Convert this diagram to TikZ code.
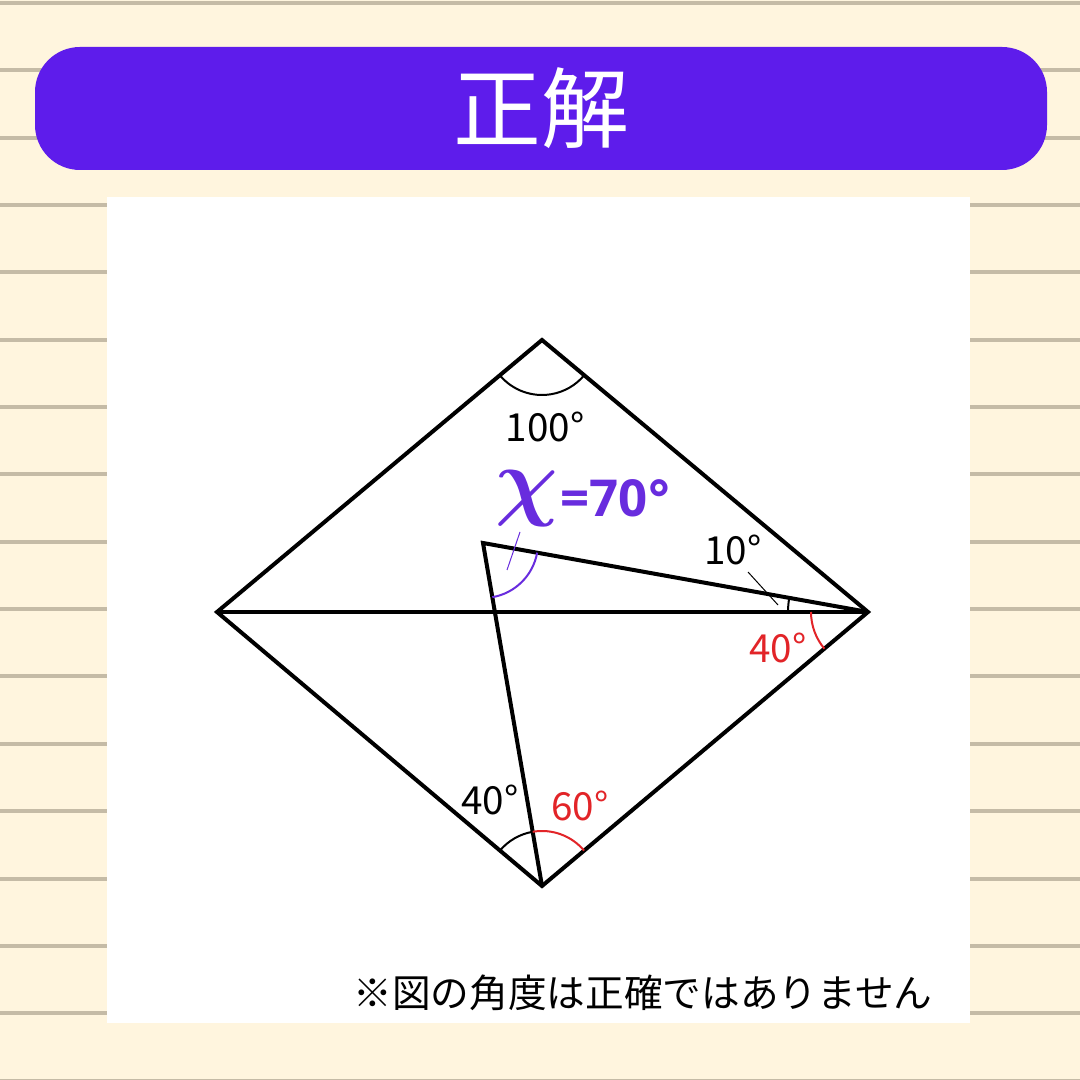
\documentclass[tikz,border=0pt]{standalone}
\usepackage{fontspec}
\setmainfont{Noto Sans CJK JP}
\newfontfamily\answerfont{Open Sans}
\usetikzlibrary{angles}

\definecolor{paper}{RGB}{255,245,222}
\definecolor{ruling}{RGB}{197,187,166}
\definecolor{banner}{RGB}{94,28,235}
\definecolor{answer}{RGB}{104,44,222}
\definecolor{given}{RGB}{226,36,40}

\begin{document}
\begin{tikzpicture}[
		edge/.style={line width=0.04cm, line join=miter},
		anglearc/.style={draw, line width=0.02cm, angle radius=0.55cm},
		pointer/.style={line width=0.01cm},
		degtext/.style={font=\fontsize{11}{11}\selectfont, inner sep=0pt}
	]
		\useasboundingbox (0,0) rectangle (10.8,10.8);
		
		% Background paper with ruled lines
		\fill[paper] (0,0) rectangle (10.8,10.8);
		\foreach \k in {0,...,16}
			\fill[ruling] (0,10.77-0.6735*\k-0.02) rectangle (10.8,10.77-0.6735*\k+0.02);
		
		% Title banner
		\fill[banner, rounded corners=0.45cm] (0.35,9.10) rectangle (10.47,10.33);
		\node[text=white, font=\fontsize{25}{25}\selectfont] (title) at (5.41,9.72) {正解};
		
		% White panel
		\fill[white] (1.07,0.57) rectangle (9.70,8.83);
		
		% Vertices
		\coordinate (T) at (5.42,7.40);
		\coordinate (L) at (2.17,4.68);
		\coordinate (R) at (8.68,4.68);
		\coordinate (B) at (5.42,1.94);
		\coordinate (P) at (4.83,5.37);
		
		% Draw diamond and diagonal
		\draw[edge] (T) -- (R) -- (B) -- (L) -- cycle;
		\draw[edge] (L) -- (R);
		
		% Draw inner triangle lines
		\draw[edge] (R) -- (P) -- (B);
		
		% Angle arcs
		\pic[anglearc] {angle = L--T--R};
		\pic[anglearc, answer] {angle = B--P--R};
		\pic[anglearc, angle radius=0.80cm] {angle = P--R--L};
		\pic[anglearc, given, angle radius=0.57cm] {angle = L--R--B};
		\pic[anglearc] {angle = P--B--L};
		\pic[anglearc, given] {angle = R--B--P};
		
		% Angle labels
		\node[degtext] (top) at (5.45,6.53) {100°};
		\node[degtext] (small) at (7.33,5.30) {10°};
		\node[degtext, text=given] (right) at (7.78,4.32) {40°};
		\node[degtext] (lowleft) at (4.90,2.80) {40°};
		\node[degtext, text=given] (lowright) at (5.80,2.74) {60°};
		
		% Answer
		\node[text=answer, inner sep=0pt, text height=0.28cm, text depth=0.18cm, font=\boldmath\fontsize{24}{24}\selectfont] (x) at (5.27,5.75) {$\chi$};
		\node[text=answer, inner sep=0pt, anchor=west, font=\answerfont\bfseries\fontsize{14.5}{14.5}\selectfont] (value) at (5.60,5.82) {=70°};
		
		% Pointer lines
		\coordinate (xa) at (5.20,5.48);
		\coordinate (xb) at (5.07,5.10);
		\draw[pointer, answer] (xa) -- (xb);
		\coordinate (ta) at (7.48,5.08);
		\coordinate (tb) at (7.78,4.75);
		\draw[pointer] (ta) -- (tb);
		
		% Note
		\node[inner sep=0pt, font=\fontsize{11}{11}\selectfont] (note) at (6.43,0.87) {※図の角度は正確ではありません};
		
	\end{tikzpicture}
\end{document}
